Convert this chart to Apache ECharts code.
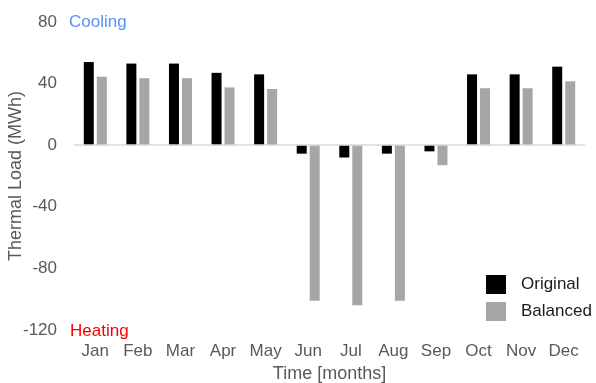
<!DOCTYPE html>
<html>
<head>
<meta charset="utf-8">
<script src="https://cdn.jsdelivr.net/npm/echarts@6/dist/echarts.min.js"></script>
<style>
    html, body { margin: 0; padding: 0; background: #fff; }
    #main { width: 596px; height: 383px; }
</style>
</head>
<body>
<div id="main"></div>
<script>
var months = ['Jan', 'Feb', 'Mar', 'Apr', 'May', 'Jun', 'Jul', 'Aug', 'Sep', 'Oct', 'Nov', 'Dec'];
var original = [54, 53, 53, 47, 46, -5.5, -8, -5.5, -4, 46, 46, 51];
var balanced = [44.5, 43.5, 43.5, 37.5, 36.5, -101, -104, -101, -13, 37, 37, 41.5];
var yTicks = { min: -120, max: 80, interval: 40 };

var myChart = echarts.init(document.getElementById('main'));
var fontFam = '"Liberation Sans", Arial, sans-serif';
var option = {
    backgroundColor: '#fff',
    animation: false,
    textStyle: { fontFamily: fontFam },
    grid: { left: 74, right: 11, top: 22, bottom: 53, containLabel: false, outerBoundsMode: 'none' },
    legend: {
        orient: 'vertical',
        left: 481,
        top: 270,
        itemWidth: 20,
        itemHeight: 19,
        itemGap: 8,
        icon: 'rect',
        textStyle: { color: '#1a1a1a', fontSize: 17, fontFamily: fontFam, padding: [0, 0, 0, 10] },
        data: ['Original', 'Balanced']
    },
    xAxis: {
        type: 'category',
        data: months,
        position: 'bottom',
        axisLine: { show: false, onZero: false },
        axisTick: { show: false },
        axisLabel: { color: '#595959', fontSize: 17, margin: 13, interval: 0 },
        name: 'Time [months]',
        nameLocation: 'middle',
        nameGap: 35,
        nameMoveOverlap: false,
        nameTextStyle: { color: '#595959', fontSize: 18 }
    },
    yAxis: {
        type: 'value',
        min: yTicks.min,
        max: yTicks.max,
        interval: yTicks.interval,
        axisLine: { show: false },
        axisTick: { show: false },
        splitLine: { show: false },
        axisLabel: { color: '#595959', fontSize: 17, margin: 17 },
        name: 'Thermal Load (MWh)',
        nameLocation: 'middle',
        nameGap: 49,
        nameMoveOverlap: false,
        nameTextStyle: { color: '#595959', fontSize: 18 }
    },
    graphic: [
        { type: 'text', left: 69, top: 14, style: { text: 'Cooling', fill: '#5b8ff9', fontSize: 17, fontFamily: fontFam } },
        { type: 'text', left: 70, top: 323, style: { text: 'Heating', fill: '#ff0000', fontSize: 17, fontFamily: fontFam } }
    ],
    series: [{
        name: 'Original',
        type: 'bar',
        data: original,
        barWidth: 10,
        barGap: '30%',
        itemStyle: { color: '#000' },
        markLine: {
            silent: true,
            symbol: 'none',
            label: { show: false },
            lineStyle: { color: '#d9d9d9', width: 1.5, type: 'solid' },
            data: [{ yAxis: 0 }]
        }
    }, {
        name: 'Balanced',
        type: 'bar',
        data: balanced,
        barWidth: 10,
        itemStyle: { color: '#a6a6a6' }
    }]
};
myChart.setOption(option);
</script>
</body>
</html>
